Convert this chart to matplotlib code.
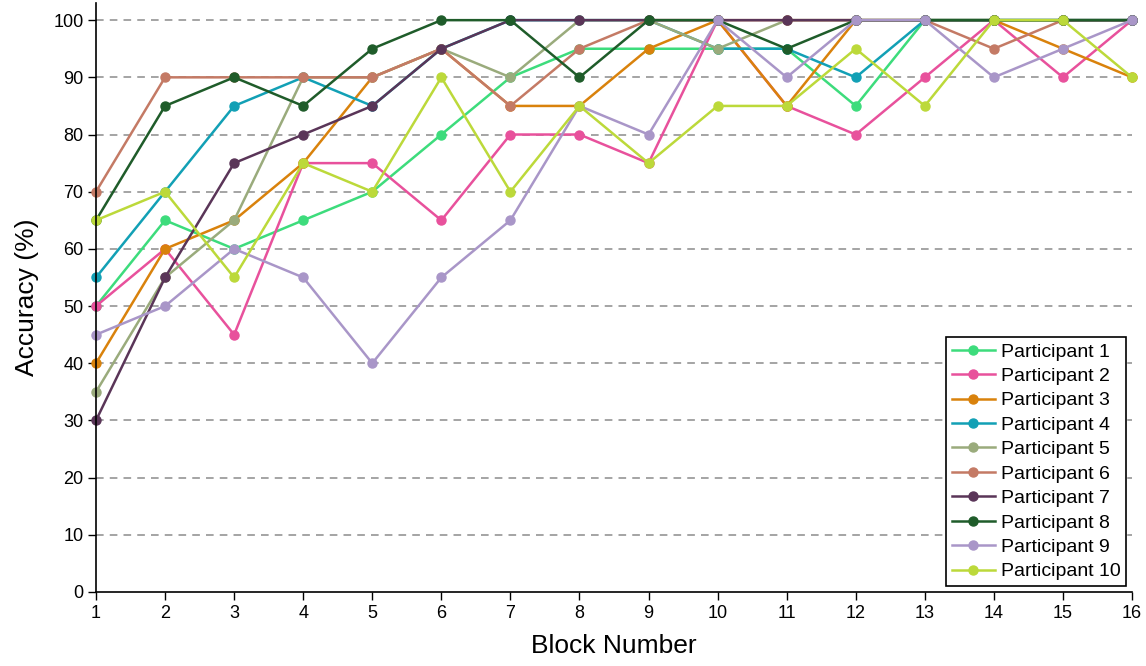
import matplotlib.pyplot as plt

plt.rcParams['font.family'] = ['Liberation Sans', 'DejaVu Sans']

blocks = list(range(1, 17))

p1 = [50, 65, 60, 65, 70, 80, 90, 95, 95, 95, 95, 85, 100, 100, 100, 100]
p2 = [50, 60, 45, 75, 75, 65, 80, 80, 75, 100, 85, 80, 90, 100, 90, 100]
p3 = [40, 60, 65, 75, 90, 95, 85, 85, 95, 100, 85, 100, 100, 100, 95, 90]
p4 = [55, 70, 85, 90, 85, 95, 100, 100, 100, 95, 95, 90, 100, 100, 100, 100]
p5 = [35, 55, 65, 90, 90, 95, 90, 100, 100, 95, 100, 100, 100, 100, 100, 100]
p6 = [70, 90, 90, 90, 90, 95, 85, 95, 100, 100, 100, 100, 100, 95, 100, 100]
p7 = [30, 55, 75, 80, 85, 95, 100, 100, 100, 100, 100, 100, 100, 100, 100, 100]
p8 = [65, 85, 90, 85, 95, 100, 100, 90, 100, 100, 95, 100, 100, 100, 100, 100]
p9 = [45, 50, 60, 55, 40, 55, 65, 85, 80, 100, 90, 100, 100, 90, 95, 100]
p10 = [65, 70, 55, 75, 70, 90, 70, 85, 75, 85, 85, 95, 85, 100, 100, 90]

series = [p1, p2, p3, p4, p5, p6, p7, p8, p9, p10]
names = ['Participant %d' % (i + 1) for i in range(10)]
colors = ['#3ddc7c', '#e8519c', '#d9820c', '#12a0b5', '#9aab7c',
          '#c47a65', '#5a3558', '#1f5c2a', '#a996c8', '#bcd93a']

fig = plt.figure(figsize=(11.46, 6.66), dpi=100)
ax = fig.add_axes([96/1146, 74/666, 1036/1146, 589/666])

# dashed horizontal guides
for y in range(10, 101, 10):
    ax.axhline(y, color='#8c8c8c', lw=1.1, ls=(0, (5, 4)), zorder=0)

for vals, name, c in zip(series, names, colors):
    ax.plot(blocks, vals, color=c, lw=1.8, marker='o', ms=6.5, label=name,
            clip_on=False)

ax.set_xlim(1, 16)
ax.set_ylim(0, 103)
ax.set_xticks(blocks)
ax.set_yticks(range(0, 101, 10))
ax.tick_params(labelsize=13, length=6, width=1, direction='out', pad=3)
for s in ['top', 'right']:
    ax.spines[s].set_visible(False)
ax.spines['left'].set_linewidth(1.2)
ax.spines['bottom'].set_linewidth(1.2)

ax.set_xlabel('Block Number', fontsize=19, labelpad=9)
ax.set_ylabel('Accuracy (%)', fontsize=19, labelpad=10)

leg = ax.legend(loc='lower right', fontsize=14, frameon=True, fancybox=False,
                edgecolor='black', framealpha=1, handlelength=2.2,
                borderaxespad=0.3, labelspacing=0.35, handletextpad=0.3,
                borderpad=0.3)
leg.get_frame().set_linewidth(1.2)

fig.savefig('out.png', dpi=100)
